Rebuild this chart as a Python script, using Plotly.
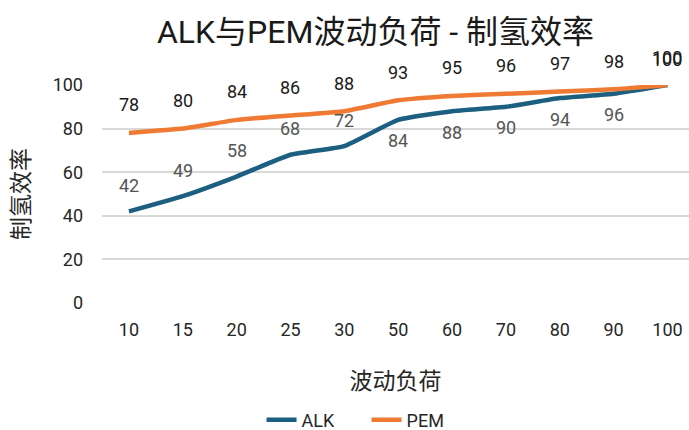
import plotly.graph_objects as go

categories = ["10", "15", "20", "25", "30", "50", "60", "70", "80", "90", "100"]
alk = [42, 49, 58, 68, 72, 84, 88, 90, 94, 96, 100]
pem = [78, 80, 84, 86, 88, 93, 95, 96, 97, 98, 100]
alk_label_above = [True, True, True, True, True, False, False, False, False, False, True]

ALK_COLOR = "#1c5f80"
PEM_COLOR = "#ef7a34"
FONT = "Roboto, Noto Sans CJK SC, sans-serif"

fig = go.Figure()
fig.add_trace(go.Scatter(x=categories, y=alk, name="ALK", mode="lines",
                         line=dict(color=ALK_COLOR, width=4.5, shape="spline", smoothing=0.4)))
fig.add_trace(go.Scatter(x=categories, y=pem, name="PEM", mode="lines",
                         line=dict(color=PEM_COLOR, width=4.5, shape="spline", smoothing=0.4)))

annotations = []
for i, v in enumerate(pem):
    annotations.append(dict(x=i, y=v, xref="x", yref="y", text=str(v), showarrow=False, yshift=28,
                            font=dict(size=18, color="#1a1a1a", family=FONT)))
for i, (v, up) in enumerate(zip(alk, alk_label_above)):
    annotations.append(dict(x=i, y=v, xref="x", yref="y", text=str(v), showarrow=False,
                            yshift=26 if up else -21,
                            font=dict(size=18, color="#555555" if i < len(alk) - 1 else "#1a1a1a",
                                      family=FONT)))

fig.update_layout(
    width=689, height=430,
    margin=dict(l=102, r=0, t=85, b=127),
    paper_bgcolor="white", plot_bgcolor="white",
    font=dict(family=FONT, color="#262626"),
    title=dict(text="ALK与PEM波动负荷 - 制氢效率", x=0.545, xanchor="center", y=0.925, yanchor="middle",
               font=dict(size=32, color="#1a1a1a", family=FONT)),
    xaxis=dict(type="category", range=[-0.5, 10.4], showgrid=False, showline=False, ticks="",
               ticklabelstandoff=14, automargin=False,
               tickfont=dict(size=18, color="#262626"),
               title=dict(text="波动负荷", font=dict(size=23, color="#262626"), standoff=33)),
    yaxis=dict(range=[0, 100], dtick=20, showgrid=True, gridcolor="#d9d9d9", gridwidth=1.5,
               zeroline=False, showline=False, ticks="", ticklabelstandoff=18, automargin=False,
               tickfont=dict(size=18, color="#262626"),
               title=dict(text="制氢效率", font=dict(size=23, color="#262626"), standoff=16)),
    legend=dict(orientation="h", xref="container", yref="container", x=0.532, xanchor="center",
                y=0.023, yanchor="middle", font=dict(size=18, color="#262626"),
                itemwidth=30, entrywidth=60),
    annotations=annotations,
    showlegend=True,
)

fig.write_html("out.html")
